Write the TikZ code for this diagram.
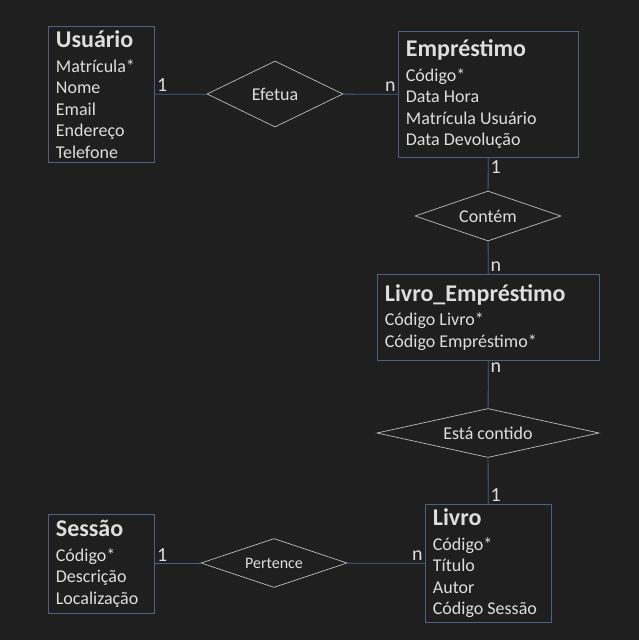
\documentclass[tikz,border=0pt]{standalone}
\usepackage{fontspec}
\setmainfont{Carlito}
\usetikzlibrary{shapes.geometric,positioning}

\definecolor{bgdark}{HTML}{1F1F1F}
\definecolor{boxblue}{HTML}{4D6283}
\definecolor{diagrey}{HTML}{BDBDBD}
\definecolor{txtgrey}{HTML}{DEDEDE}

\newcommand{\bodyfont}{\fontsize{18}{21.5}\selectfont}
\newcommand{\titlefont}{\fontsize{24}{24}\selectfont\bfseries}

\begin{document}
\begin{tikzpicture}[x=1pt,y=-1pt]
	\tikzstyle{entity}=[draw=boxblue,line width=0.8pt,text=txtgrey,anchor=north west,inner xsep=7.5pt,inner ysep=0pt,font=\bodyfont,align=left,execute at begin node={\spaceskip=0pt\xspaceskip=0pt\relax}]
	\tikzstyle{relation}=[diamond,draw=diagrey,line width=0.7pt,text=txtgrey,inner sep=0pt,font=\bodyfont]
	\tikzstyle{card}=[text=txtgrey,font=\fontsize{20}{22}\selectfont,inner sep=2pt]
	\tikzstyle{link}=[draw=boxblue,line width=0.8pt]
	\fill[bgdark] (0,0) rectangle (639,640);
	\useasboundingbox (0,0) rectangle (639,640);
		% entidades
		\node[entity, text width=91pt, minimum height=136pt] (usuario) at (48,26)
			{{\titlefont Usuário}\\[3pt]Matrícula*\\Nome\\Email\\Endereço\\Telefone};
		\node[entity, text width=165pt, minimum height=126pt] (emprestimo) at (398,31)
			{{\titlefont Empréstimo}\\[3pt]Código*\\Data Hora\\Matrícula Usuário\\Data Devolução};
		\node[entity, text width=207pt, minimum height=86pt] (livroemp) at (377,274)
			{{\titlefont Livro\_Empréstimo}\\[3pt]Código Livro*\\Código Empréstimo*};
		\node[entity, text width=111pt, minimum height=118pt] (livro) at (425,504)
			{{\titlefont Livro}\\[3pt]Código*\\Título\\Autor\\Código Sessão};
		\node[entity, text width=91pt, minimum height=99pt] (sessao) at (48,514)
			{{\titlefont Sessão}\\[3pt]Código*\\Descrição\\Localização};
		% relacionamentos
		\node[relation, minimum width=136pt, minimum height=66pt, aspect=2.06] (efetua) at (275,94) {Efetua};
		\node[relation, minimum width=146pt, minimum height=50pt, aspect=2.92] (contem) at (488,216) {Contém};
		\node[relation, minimum width=222pt, minimum height=49pt, aspect=4.53] (contido) at (488,433) {Está contido};
		\node[relation, minimum width=146pt, minimum height=49pt, aspect=2.98, font=\fontsize{16}{18}\selectfont] (pertence) at (274,563) {Pertence};
			\draw[link] (usuario) -- node[card, pos=0, above right] {1} (efetua);
			\draw[link] (efetua) -- node[card, pos=1, above left] {n} (emprestimo);
			\draw[link] (emprestimo) -- node[card, pos=0, below right] {1} (contem);
			\draw[link] (contem) -- node[card, pos=1, above right] {n} (livroemp);
			\draw[link] (livroemp) -- node[card, pos=0, below right] {n} (contido);
			\draw[link] (contido) -- node[card, pos=1, above right] {1} (livro);
			\draw[link] (sessao) -- node[card, pos=0, above right] {1} (pertence);
			\draw[link] (pertence) -- node[card, pos=1, above left] {n} (livro);
\end{tikzpicture}
\end{document}
